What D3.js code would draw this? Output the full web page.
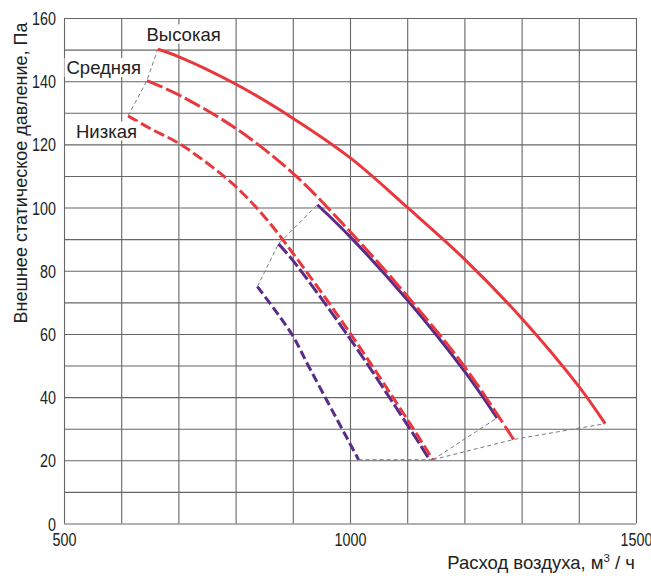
<!DOCTYPE html>
<html>
<head>
<meta charset="utf-8">
<script src="https://cdn.jsdelivr.net/npm/d3@7"></script>
<style>
  html, body { margin: 0; padding: 0; background: #fff; }
  svg { display: block; }
  text { font-family: "Liberation Sans", Arial, Helvetica, sans-serif; fill: #222; }
</style>
</head>
<body>
<svg id="chart" width="651" height="585"></svg>
<script>
// ---- Data ----
const xTicks = [500, 1000, 1500];
const yTicks = [0, 20, 40, 60, 80, 100, 120, 140, 160];
const xTitle = "Расход воздуха, м";
const xTitleSup = "3";
const xTitleTail = " / ч";
const yTitle = "Внешнее статическое давление, Па";

// Red curves (Высокая / Средняя / Низкая)
const redHighX = [664, 700, 800, 900, 1000, 1100, 1200, 1300, 1400, 1446];
const redHighY = [150.1, 147.8, 139.1, 128.3, 115.8, 100.1, 83.7, 65.0, 43.4, 31.6];
const redMedX  = [645, 700, 800, 900, 1000, 1100, 1200, 1286];
const redMedY  = [140.2, 135.7, 125.1, 110.9, 92.4, 72.0, 49.7, 26.6];
const redLowX  = [612, 650, 700, 750, 800, 850, 900, 1000, 1100, 1145];
const redLowY  = [129.0, 125.1, 120.4, 114.1, 106.7, 97.2, 85.6, 60.3, 33.0, 20.2];

// Purple curves
const purSolidX = [943, 1000, 1100, 1200, 1257];
const purSolidY = [100.9, 90.8, 70.8, 48.2, 33.4];
const purLongX  = [875, 900, 1000, 1100, 1139];
const purLongY  = [88.5, 83.3, 58.5, 31.3, 20.2];
const purShortX = [838, 898, 927, 1015];
const purShortY = [75.0, 60.0, 50.0, 20.2];

const labels = ["Высокая", "Средняя", "Низкая"];

// ---- Layout ----
const svg = d3.select("#chart");
const L = 64, R = 636, T = 18, B = 523.5;
const x = d3.scaleLinear().domain([500, 1500]).range([L, R]);
const y = d3.scaleLinear().domain([0, 160]).range([B, T]);

const RED = "#e8383d", PURPLE = "#5b2b88", GRID = "#666";

// Grid
svg.append("g")
  .attr("transform", `translate(0,${B})`)
  .call(d3.axisBottom(x).tickValues(d3.range(500, 1501, 100)).tickSize(-(B - T)).tickFormat(""))
  .call(g => g.select(".domain").remove())
  .call(g => g.selectAll("line").attr("stroke", GRID).attr("stroke-width", 1.1));
svg.append("g")
  .attr("transform", `translate(${L},0)`)
  .call(d3.axisLeft(y).tickValues(d3.range(0, 161, 10)).tickSize(-(R - L)).tickFormat(""))
  .call(g => g.select(".domain").remove())
  .call(g => g.selectAll("line").attr("stroke", GRID).attr("stroke-width", 1.1));

// Axis tick labels (condensed look)
const SX = 0.82;
svg.append("g")
  .attr("transform", `translate(0,${B})`)
  .call(d3.axisBottom(x).tickValues(xTicks).tickSize(0).tickFormat(d3.format("d")))
  .call(g => g.select(".domain").remove())
  .call(g => g.selectAll("text")
    .attr("y", 22.5).attr("dy", 0)
    .attr("transform", `scale(${SX},1)`)
    .style("font-size", "17.5px").attr("fill", "#222"));
svg.append("g")
  .attr("transform", `translate(${L},0)`)
  .call(d3.axisLeft(y).tickValues(yTicks).tickSize(0).tickFormat(d3.format("d")))
  .call(g => g.select(".domain").remove())
  .call(g => g.selectAll("text")
    .attr("x", -8 / SX).attr("y", 6.5).attr("dy", 0)
    .attr("transform", `scale(${SX},1)`)
    .style("font-size", "17.5px").attr("fill", "#222"));

// Axis titles
svg.append("text")
  .attr("transform", "translate(26.5,173) rotate(-90)")
  .attr("text-anchor", "middle")
  .style("font-size", "18px")
  .text(yTitle);
const xt = svg.append("text")
  .attr("x", 635).attr("y", 569)
  .attr("text-anchor", "end")
  .style("font-size", "18.5px");
xt.append("tspan").text(xTitle);
xt.append("tspan").attr("dy", -7).style("font-size", "11.5px").text(xTitleSup);
xt.append("tspan").attr("dy", 7).text(xTitleTail);

// Series helpers
const zip = (xs, ys) => xs.map((v, i) => [v, ys[i]]);
const series = {
  high: zip(redHighX, redHighY),
  med: zip(redMedX, redMedY),
  low: zip(redLowX, redLowY),
  pSolid: zip(purSolidX, purSolidY),
  pLong: zip(purLongX, purLongY),
  pShort: zip(purShortX, purShortY)
};
const first = k => series[k][0];
const last = k => series[k][series[k].length - 1];

// Thin dashed connectors (from series end points)
const connectors = [
  [first("low"), first("med"), first("high")],
  [first("pShort"), first("pLong"), first("pSolid")],
  [last("pShort"), last("low")],
  [last("low"), last("pSolid")],
  [last("low"), last("med"), last("high")]
];
const straight = d3.line().x(d => x(d[0])).y(d => y(d[1]));
svg.append("g").selectAll("path").data(connectors).join("path")
  .attr("d", straight)
  .attr("fill", "none")
  .attr("stroke", "#7a7a7a")
  .attr("stroke-width", 1)
  .attr("stroke-dasharray", "4,3");

// Curves
const curve = d3.line().x(d => x(d[0])).y(d => y(d[1])).curve(d3.curveCatmullRom.alpha(0.5));
const styles = [
  { key: "pShort", color: PURPLE, dash: "9,4" },
  { key: "pLong", color: PURPLE, dash: "13,3.5" },
  { key: "pSolid", color: PURPLE, dash: null },
  { key: "low", color: RED, dash: "11,4" },
  { key: "med", color: RED, dash: "17,4" },
  { key: "high", color: RED, dash: null }
];
svg.append("g").selectAll("path").data(styles).join("path")
  .attr("d", s => curve(series[s.key]))
  .attr("fill", "none")
  .attr("stroke", s => s.color)
  .attr("stroke-width", 3)
  .attr("stroke-dasharray", s => s.dash);

// Curve labels with white backgrounds
const labelPos = [
  { text: labels[0], x: 146.5, y: 40.5 },
  { text: labels[1], x: 66.5, y: 74 },
  { text: labels[2], x: 76, y: 137.5 }
];
const lg = svg.append("g");
labelPos.forEach(p => {
  const t = lg.append("text").attr("x", p.x).attr("y", p.y).style("font-size", "18.5px").text(p.text);
  const bb = t.node().getBBox();
  lg.insert("rect", "text")
    .attr("x", bb.x - 2).attr("y", bb.y + 1).attr("width", bb.width + 4).attr("height", bb.height - 2)
    .attr("fill", "#fff");
});
</script>
</body>
</html>
